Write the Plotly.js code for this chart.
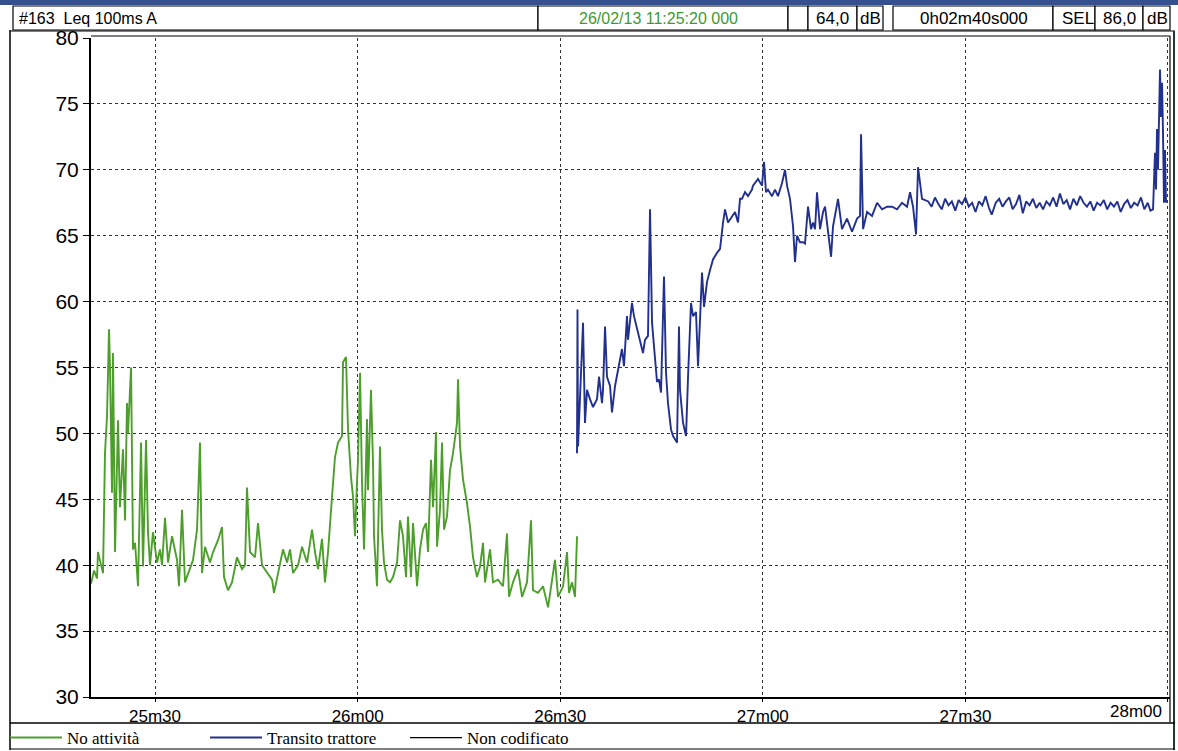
<!DOCTYPE html>
<html>
<head>
<meta charset="utf-8">
<script src="https://cdn.plot.ly/plotly-3.0.1.min.js"></script>
<style>
html,body{margin:0;padding:0;background:#fff;overflow:hidden;}
#chart{width:1178px;height:751px;}
</style>
</head>
<body>
<div id="chart"></div>
<script>
// ---- Data (seconds after 11:25:00, Leq 100ms A in dB) ----
const greenTime = [20.08,20.52,20.97,21.41,21.55,22.30,22.59,22.89,23.19,23.33,23.63,23.78,24.08,24.52,24.81,25.26,25.56,25.85,26.00,26.45,26.74,27.04,27.48,27.93,28.22,28.67,28.96,29.26,29.70,30.30,30.74,31.04,31.48,31.93,32.52,33.26,33.55,34.00,34.44,35.18,35.63,36.22,36.66,36.96,37.40,38.14,38.59,39.33,39.92,40.22,40.81,41.40,42.14,42.88,43.33,43.62,44.07,44.81,45.25,45.84,46.59,47.33,47.62,48.21,48.95,49.55,49.99,50.44,51.18,51.77,52.51,53.25,53.69,54.14,54.73,55.17,55.62,56.21,56.65,57.10,57.69,57.84,58.28,58.58,59.02,59.32,59.62,59.91,60.06,60.36,60.65,60.95,61.39,61.54,61.98,62.28,62.43,62.87,63.32,63.61,63.91,64.35,64.80,65.24,65.84,66.28,66.72,67.17,67.46,67.91,68.21,68.80,69.24,69.69,70.13,70.43,70.87,71.17,71.61,71.76,72.20,72.50,72.80,73.24,73.68,74.13,74.72,74.87,75.17,75.61,76.20,76.65,77.09,77.68,78.13,78.57,78.87,79.61,80.05,80.79,81.53,82.12,82.42,83.01,83.75,84.35,85.09,85.68,85.97,86.71,87.46,88.20,88.79,89.23,89.68,90.42,91.01,91.31,91.75,92.19,92.49];
const greenLevel = [39.2,38.6,39.6,39.0,41.0,39.4,48.5,51.3,57.9,55.0,45.5,56.1,41.0,51.0,44.4,48.8,43.4,52.3,50.0,55.0,41.2,41.7,38.4,49.3,39.9,49.5,42.5,40.0,42.5,40.2,41.2,40.0,43.6,40.2,42.2,40.4,38.4,44.2,38.7,39.7,40.4,42.7,49.3,39.4,41.4,40.2,41.0,41.9,42.9,39.1,38.1,38.7,40.6,39.7,40.0,45.9,41.0,40.6,43.2,40.0,39.4,38.9,37.9,39.4,41.2,40.2,41.2,39.4,40.0,41.4,40.2,42.7,41.0,39.7,42.0,38.7,41.0,45.2,48.2,49.3,49.8,55.4,55.8,50.3,46.7,45.2,42.2,46.3,48.0,54.6,46.3,41.2,51.1,45.7,53.3,47.8,42.2,38.4,49.0,42.7,40.2,38.9,38.7,39.1,40.2,43.4,42.2,39.1,43.7,39.1,43.2,38.4,41.2,42.7,43.2,41.0,48.0,44.4,50.1,41.4,44.2,49.3,42.7,43.7,47.2,48.5,50.8,54.1,49.0,46.5,44.7,42.9,40.6,39.1,39.9,41.7,38.7,41.2,38.7,38.9,38.4,42.4,37.6,38.7,39.7,37.6,38.7,43.4,38.1,37.9,38.4,36.8,38.7,40.4,37.6,38.4,41.0,37.9,38.7,37.6,42.2];

const blueTime = [92.49,92.56,92.64,92.93,93.38,93.67,93.97,94.41,94.86,95.45,95.75,96.19,96.34,96.64,96.93,97.38,97.67,98.12,98.56,99.15,99.45,99.89,100.04,100.63,100.93,101.37,101.82,102.26,102.56,103.00,103.30,103.60,103.89,104.34,104.63,104.93,105.37,105.67,105.96,106.41,106.71,107.30,107.59,107.74,108.19,108.63,108.93,109.37,109.67,110.11,110.41,110.70,111.00,111.30,111.74,112.19,112.63,113.22,113.67,114.11,114.41,114.85,115.44,115.89,116.33,116.63,116.92,117.37,117.81,118.40,118.55,119.29,119.88,120.18,120.47,120.77,121.36,121.81,122.25,122.85,123.29,123.59,124.03,124.48,124.77,125.07,125.51,125.96,126.25,126.70,127.14,127.44,127.74,128.03,128.48,128.92,129.22,129.66,130.11,130.40,131.14,131.73,132.47,133.21,133.96,134.40,134.55,134.85,135.44,136.18,136.92,137.66,138.40,139.14,139.88,140.62,141.36,141.81,142.25,142.69,142.99,143.58,144.5,145.0,145.5,146.0,146.5,147.0,147.5,148.0,148.5,149.0,149.5,150.0,150.5,151.0,151.5,152.0,152.5,153.0,153.5,153.9,154.5,155.0,155.5,156.0,156.5,157.0,157.5,158.0,158.5,159.0,159.5,160.0,160.5,161.0,161.5,162.0,162.5,163.0,163.5,164.0,164.5,165.0,165.5,166.0,166.5,167.0,167.5,168.0,168.5,169.0,169.5,170.0,170.5,171.0,171.5,172.0,172.5,173.0,173.5,174.0,174.5,175.0,175.5,176.0,176.5,177.0,177.4,177.79,178.08,178.23,178.38,178.52,178.82,178.97,179.12,179.26,179.41,179.56,179.71];
const blueLevel = [48.5,59.4,49.0,52.8,58.4,50.8,53.3,52.6,52.0,52.6,54.3,52.3,53.3,58.1,54.3,53.6,51.6,53.6,54.8,56.4,55.1,58.9,57.1,59.9,58.9,57.9,57.1,56.1,57.1,57.4,67.0,58.4,56.6,53.9,54.1,53.1,61.9,54.6,52.3,50.3,49.8,49.3,58.1,53.3,50.8,49.8,54.3,59.9,58.9,59.2,55.1,58.4,62.2,59.6,61.5,62.4,63.2,63.7,64.0,66.0,67.0,66.0,66.5,66.8,66.0,67.8,67.8,68.3,68.0,68.5,68.8,69.3,68.8,70.6,68.3,68.5,68.0,68.5,68.0,69.0,70.0,68.8,67.8,65.7,63.0,65.0,64.5,64.5,64.4,67.2,65.5,66.0,65.5,68.3,65.5,66.8,67.2,65.5,63.4,65.7,67.8,65.5,66.3,65.3,66.3,66.5,72.7,65.5,66.8,66.5,67.5,67.0,67.2,67.2,67.0,67.5,67.2,68.3,67.2,65.1,70.2,67.8,67.6,67.2,67.9,67.4,67.0,67.8,67.3,67.6,66.9,67.7,67.4,67.9,67.2,67.5,66.8,67.6,67.3,68.0,67.1,66.6,67.5,67.8,67.2,67.6,67.9,67.0,67.4,68.1,66.7,67.6,67.3,67.8,67.1,67.5,67.0,67.6,67.3,67.9,67.2,68.2,67.4,67.7,67.0,67.8,67.3,68.0,67.5,67.2,67.6,66.9,67.5,67.3,67.7,67.0,67.5,67.2,67.6,66.8,67.4,67.7,67.1,67.5,67.3,67.9,67.0,67.5,66.9,67.0,71.3,68.5,73.1,70.0,77.6,74.0,76.6,72.9,67.5,71.5,67.5];

const seriesNames = ["No attività", "Transito trattore", "Non codificato"];
const xTickVals = [30, 60, 90, 120, 150, 180];
const xTickText = ["25m30", "26m00", "26m30", "27m00", "27m30", "28m00"];
const yTickVals = [30, 35, 40, 45, 50, 55, 60, 65, 70, 75, 80];

const headerLabel = "#163  Leq 100ms A";
const headerDate = "26/02/13 11:25:20 000";
const headerLevel = "64,0";
const headerDuration = "0h02m40s000";
const headerSEL = "86,0";

// ---- Layout helpers (pixel -> paper) ----
const L = 91, R = 1170, T = 38, B = 697;
const px = x => (x - L) / (R - L);
const py = y => (B - y) / (B - T);

const sans = "Liberation Sans, Arial, sans-serif";
const shapes = [];
function line(x0, y0, x1, y1, color, width) {
  shapes.push({type: "line", xref: "paper", yref: "paper", x0: px(x0), y0: py(y0), x1: px(x1), y1: py(y1),
    line: {color: color || "#000", width: width || 1}});
}
function rect(x0, y0, x1, y1, fill, lc, lw) {
  shapes.push({type: "rect", xref: "paper", yref: "paper", x0: px(x0), y0: py(y0), x1: px(x1), y1: py(y1),
    fillcolor: fill || "rgba(0,0,0,0)", line: {color: lc || "#000", width: lw === undefined ? 1 : lw}, layer: "below"});
}
// top strip
rect(0, 0, 1178, 5, "#34508e", "#34508e", 0);
// header boxes
const boxes = [[13, 538], [538, 788], [788, 808], [808, 857], [857, 883], [893, 1053], [1053, 1095], [1095, 1143], [1143, 1170]];
boxes.forEach(b => rect(b[0], 6, b[1], 30, "#fff", "#000", 1.2));
// outer panel frame
line(10, 30, 10, 750, "#000", 1.5);
line(10, 31, 1175, 31, "#000", 1.2);
line(1174, 31, 1174, 750, "#1d3a3a", 2);
line(1170, 36, 1170, 722, "#000", 1.2);
line(91, 36, 1170, 36, "#000", 1);
line(10, 723, 1175, 723, "#000", 1.5);
line(10, 749, 1175, 749, "#000", 1.2);

const annotations = [];
function txt(text, x, y, anchor, color, size) {
  annotations.push({text: text, xref: "paper", yref: "paper", x: px(x), y: py(y), xanchor: anchor, yanchor: "middle",
    showarrow: false, font: {family: sans, size: size || 17, color: color || "#000"}});
}
txt(headerLabel, 17, 18, "left", "#000", 16);
txt(headerDate, 658, 18, "center", "#3f9a2e", 16);
txt(headerLevel, 832, 18, "center");
txt("dB", 870, 18, "center");
txt(headerDuration, 974, 18, "center");
txt("SEL", 1078, 18, "center");
txt(headerSEL, 1119, 18, "center");
txt("dB", 1157, 18, "center");
// last x tick label sits left of its tick in the original
annotations.push({text: xTickText[5], xref: "x", yref: "paper", x: xTickVals[5], y: py(711), xanchor: "right", yanchor: "middle",
  xshift: -4, showarrow: false, font: {family: sans, size: 17, color: "#000"}});

const traces = [
  {x: greenTime, y: greenLevel, type: "scatter", mode: "lines", name: seriesNames[0],
   line: {color: "#4d9f2b", width: 1.9}},
  {x: blueTime, y: blueLevel, type: "scatter", mode: "lines", name: seriesNames[1],
   line: {color: "#22308f", width: 1.9}},
  {x: [null], y: [null], type: "scatter", mode: "lines", name: seriesNames[2],
   line: {color: "#000", width: 1.2}}
];

const layout = {
  width: 1178, height: 751,
  margin: {l: L, r: 1178 - R, t: T, b: 751 - B, pad: 0, autoexpand: false},
  paper_bgcolor: "#fff", plot_bgcolor: "#fff",
  showlegend: true,
  legend: {orientation: "h", x: px(5), y: py(738), xanchor: "left", yanchor: "middle",
    font: {family: "Liberation Serif, Times New Roman, serif", size: 17, color: "#000"},
    bgcolor: "rgba(0,0,0,0)", itemgap: 0, itemwidth: 52, entrywidth: 133},
  xaxis: {range: [20.52, 180.3], tickvals: xTickVals, ticktext: xTickText.slice(0, 5).concat([""]),
    showgrid: true, gridcolor: "#333", griddash: "dot", gridwidth: 1,
    showline: true, linecolor: "#000", linewidth: 2, ticks: "outside", ticklen: 3, tickcolor: "#000",
    tickfont: {family: sans, size: 17, color: "#000"}, zeroline: false, fixedrange: true},
  yaxis: {range: [30, 80], tickvals: yTickVals,
    showgrid: true, gridcolor: "#333", griddash: "dot", gridwidth: 1,
    showline: true, linecolor: "#000", linewidth: 2, ticks: "outside", ticklen: 6, tickcolor: "#000",
    tickfont: {family: sans, size: 21, color: "#000"}, zeroline: false, fixedrange: true},
  shapes: shapes,
  annotations: annotations
};

Plotly.newPlot("chart", traces, layout, {displayModeBar: false, staticPlot: true});
</script>
</body>
</html>
